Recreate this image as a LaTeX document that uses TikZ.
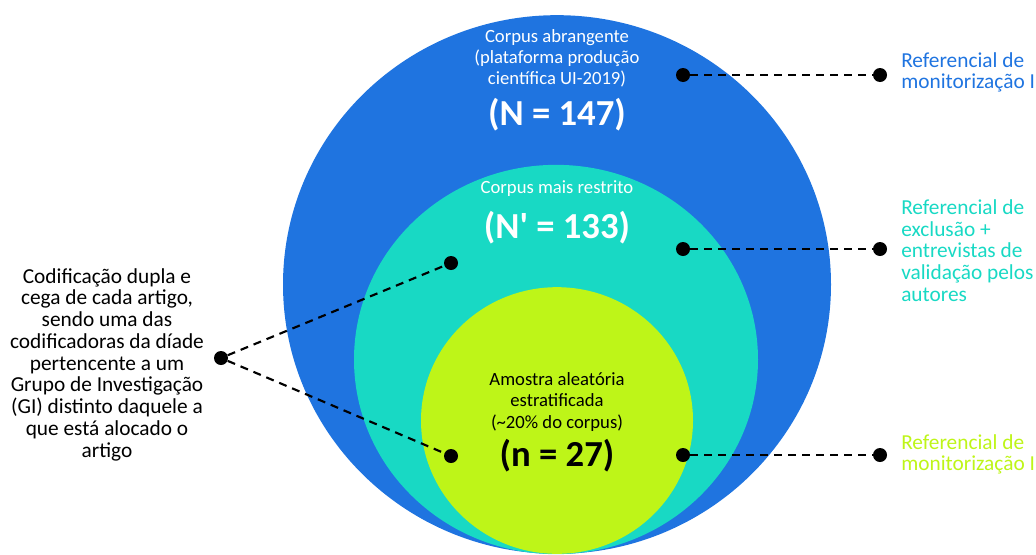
\documentclass[tikz,border=0pt]{standalone}
\usepackage{fontspec}
\setmainfont{Carlito}
\usetikzlibrary{positioning}
\definecolor{azul}{RGB}{31,116,224}
\definecolor{turquesa}{RGB}{24,217,196}
\definecolor{lima}{RGB}{190,245,24}
\tikzset{
  ponto/.style={circle, fill=black, inner sep=0pt, minimum size=10.5pt},
  ligacao/.style={black, line width=1.6pt, dash pattern=on 6pt off 4.5pt},
  dentro/.style={align=center, font=\fontsize{14}{15.8}\selectfont},
  grande/.style={font=\fontsize{27.5}{30}\selectfont\bfseries},
  rotulo/.style={align=left, anchor=west, inner sep=0pt, font=\fontsize{16}{16.3}\selectfont}
}
\begin{document}
\begin{tikzpicture}[x=0.75pt, y=-0.75pt]
        \useasboundingbox (0,0) rectangle (1036,554);
        % Elipses encaixadas (tangentes em baixo)
        \fill[azul] (557,284.5) ellipse [x radius=205.5pt, y radius=202pt];
        \fill[turquesa] (556,359.5) ellipse [x radius=151.5pt, y radius=146pt];
        \fill[lima] (557,420.5) ellipse [x radius=102pt, y radius=100pt];

        % Textos dentro das elipses
        \node[dentro, white] (abrang) at (557,58) {Corpus abrangente\\(plataforma produção\\científica UI-2019)};
        \node[grande, white] (n147) at (557,115) {(N = 147)};
        \node[dentro, white] (restr) at (557,189) {Corpus mais restrito};
        \node[grande, white] (n133) at (557,228) {(N\textquotesingle{} = 133)};
        \node[dentro, black] (amostra) at (557,402) {Amostra aleatória\\estratificada\\(\textasciitilde20\% do corpus)};
        \node[grande, black] (n27) at (557,456) {(n = 27)};

        % Pontos e ligações
        \node[ponto] (pa) at (683,75) {};
        \node[ponto] (pa2) at (880,75) {};
        \node[ponto] (pt) at (683,249) {};
        \node[ponto] (pt2) at (880,249) {};
        \node[ponto] (pl) at (683,455) {};
        \node[ponto] (pl2) at (880,455) {};
        \node[ponto] (pe) at (221,358) {};
        \node[ponto] (pe1) at (451,263) {};
        \node[ponto] (pe2) at (451,456) {};
        \draw[ligacao] (pa) -- (pa2);
        \draw[ligacao] (pt) -- (pt2);
        \draw[ligacao] (pl) -- (pl2);
        \draw[ligacao] (pe) -- (pe1);
        \draw[ligacao] (pe) -- (pe2);

        % Rótulos laterais
        \node[rotulo, text=azul] (refa) at (901,72.5) {Referencial de\\monitorização I};
        \node[rotulo, text=turquesa] (reft) at (901,250.5) {Referencial de\\exclusão +\\entrevistas de\\validação pelos\\autores};
        \node[rotulo, text=lima] (refl) at (901,454.5) {Referencial de\\monitorização II};
        \node[align=center, inner sep=0pt, font=\fontsize{16}{16.3}\selectfont] (codif) at (107,364.5)
          {Codificação dupla e\\cega de cada artigo,\\sendo uma das\\codificadoras da díade\\pertencente a um\\Grupo de Investigação\\(GI) distinto daquele a\\que está alocado o\\artigo};
    \end{tikzpicture}
\end{document}
